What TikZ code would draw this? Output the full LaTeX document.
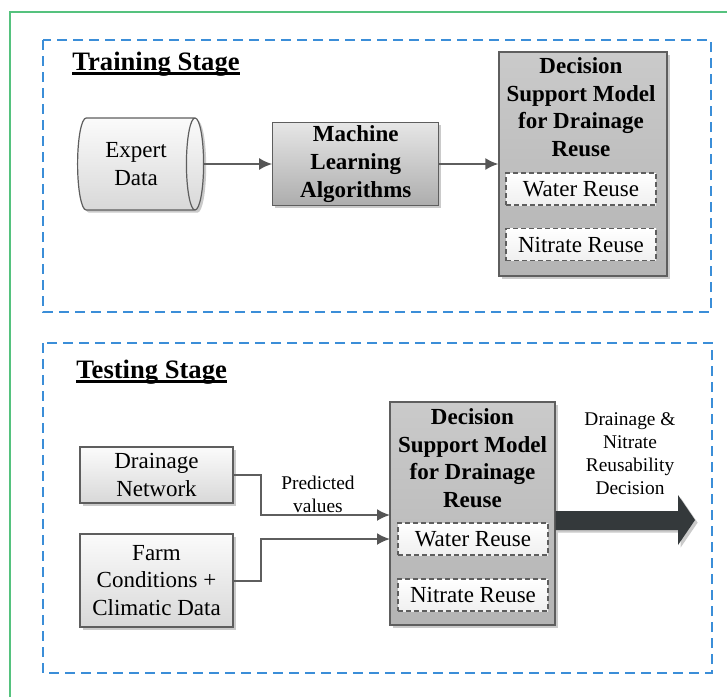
\documentclass[tikz,border=0pt]{standalone}
\usepackage{fontspec}
\setmainfont{Liberation Serif}
\usepackage{tikz}
\definecolor{stageblue}{HTML}{3B8ED8}
\definecolor{framegreen}{HTML}{55C27E}
\definecolor{edgegray}{HTML}{5E5E5E}
\definecolor{tipgray}{HTML}{555555}
\definecolor{boxtop}{HTML}{E6E6E6}
\definecolor{boxbottom}{HTML}{ADADAD}
\definecolor{modeltop}{HTML}{CACACA}
\definecolor{modelbottom}{HTML}{B4B4B4}
\definecolor{inputtop}{HTML}{FBFBFB}
\definecolor{inputbottom}{HTML}{D8D8D8}
\definecolor{bigarrow}{HTML}{34393B}
\usetikzlibrary{arrows.meta, positioning, shapes, shadows}
\newcommand{\boxfont}{\fontsize{11.5}{13.8}\selectfont}
\newcommand{\labelfont}{\fontsize{9.7}{11.5}\selectfont}
\newcommand{\stagefont}{\fontsize{13.3}{16}\selectfont\bfseries}
\newsavebox{\stagebox}
\newcommand{\stageline}[1]{\sbox{\stagebox}{#1}\rlap{\rule[-2.3pt]{\wd\stagebox}{1.1pt}}\usebox{\stagebox}}
\tikzstyle{softshadow} = [drop shadow={shadow xshift=1.3pt, shadow yshift=-1.3pt, fill=gray!70, opacity=0.6}]
\tikzstyle{block} = [draw=edgegray, line width=0.6pt, rectangle, top color=boxtop, bottom color=boxbottom, softshadow, align=center, font=\boxfont\bfseries, minimum width=83pt, minimum height=41.5pt, inner sep=0pt]
\tikzstyle{input} = [draw=edgegray, line width=0.6pt, rectangle, top color=inputtop, bottom color=inputbottom, softshadow, align=center, font=\boxfont, minimum width=76.5pt, inner sep=0pt]
\tikzstyle{store} = [draw=edgegray, line width=0.6pt, cylinder, shape aspect=0.4, top color=inputtop, bottom color=inputbottom, softshadow, align=center, font=\boxfont, minimum width=46pt, minimum height=63pt, inner sep=0pt]
\tikzstyle{model} = [draw=edgegray, line width=0.6pt, rectangle, top color=modeltop, bottom color=modelbottom, softshadow, minimum width=84pt, minimum height=112pt]
\tikzstyle{modeltitle} = [align=center, font=\boxfont\bfseries, inner sep=0pt]
\tikzstyle{option} = [draw=edgegray, line width=0.6pt, dash pattern=on 2.5pt off 1.5pt, top color=white, bottom color=gray!12, font=\boxfont, minimum width=75pt, minimum height=16pt, inner sep=0pt]
\tikzstyle{stage} = [draw=stageblue, line width=1pt, dash pattern=on 5pt off 3pt]
\tikzstyle{stagetitle} = [anchor=base west, font=\stagefont, inner sep=0pt]
\tikzstyle{arrow} = [arrows=->, edgegray, line width=1pt]
\tikzstyle{label} = [align=center, font=\labelfont, inner sep=0pt]

\begin{document}
\begin{tikzpicture}[x=0.5pt, y=-0.5pt, auto, >={Latex[length=6.5pt, width=6pt, color=tipgray]}]
    \useasboundingbox (0,0) rectangle (727,697);
    % Draw the frames
    \draw [framegreen, line width=1pt] (10,697) -- (10,12) -- (727,12);
    \draw [stage] (43,40) rectangle (711,312);
    \draw [stage] (43,343) rectangle (712,673);

    % Place the blocks of the training stage
    \node [stagetitle] (train) at (72,70) {\stageline{Training Stage}};
    \node [store] (expert) at (136,164) {Expert\\Data};
    \node [block, right=34pt of expert] (learn) {Machine\\Learning\\Algorithms};
    \node [model, right=29.5pt of learn] (dsmA) {};
    \node [modeltitle] (dsmAtitle) at (581,107) {Decision\\Support Model\\for Drainage\\Reuse};
    \node [option] (waterA) at (581,189) {Water Reuse};
    \node [option] (nitrateA) at (581,244.5) {Nitrate Reuse};

    % Place the blocks of the testing stage
    \node [stagetitle] (test) at (76,378) {\stageline{Testing Stage}};
    \node [input, minimum height=28pt] (drain) at (156.5,475) {Drainage\\Network};
    \node [input, minimum height=46.5pt] (farm) at (156.5,580.5) {Farm\\Conditions +\\Climatic Data};
    \node [model, minimum width=82.5pt, minimum height=111.5pt] (dsmB) at (472.5,513.5) {};
    \node [modeltitle] (dsmBtitle) at (472.5,458) {Decision\\Support Model\\for Drainage\\Reuse};
    \node [option] (waterB) at (473,539) {Water Reuse};
    \node [option] (nitrateB) at (473,595) {Nitrate Reuse};
    \node [label] (predicted) at (318,494) {Predicted\\values};
    \node [label] (decision) at (630,454) {Drainage \&\\Nitrate\\Reusability\\Decision};
    \coordinate (inA) at (390,515);
    \coordinate (inB) at (390,539);

    % Connect the nodes
    \draw [arrow] (expert) -- (learn);
    \draw [arrow] (learn) -- (dsmA);
    \draw [arrow] (drain.east) -- ++(27,0) |- (inA);
    \draw [arrow] (farm.east) -- ++(27,0) |- (inB);
    \fill [bigarrow, softshadow] (dsmB.east |- 0,511) -- (678,511) -- (678,495) -- (695,520)
        -- (678,545) -- (678,530) -- (dsmB.east |- 0,530) -- cycle;
\end{tikzpicture}
\end{document}
